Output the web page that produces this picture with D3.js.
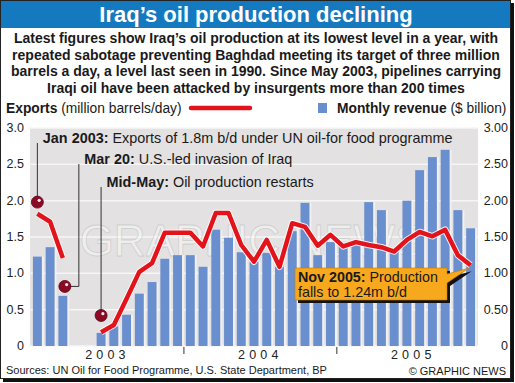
<!DOCTYPE html>
<html><head><meta charset="utf-8">
<script src="https://cdn.jsdelivr.net/npm/d3@7"></script>
<style>
body{margin:0;background:#fff}
svg{display:block;font-family:"Liberation Sans",Arial,Helvetica,sans-serif}
</style>
</head><body><svg id="c" width="515" height="383"></svg>
<script>
// ---------- DATA ----------
const months = [
 "2003-01","2003-02","2003-03","2003-04","2003-05","2003-06","2003-07","2003-08","2003-09","2003-10","2003-11","2003-12",
 "2004-01","2004-02","2004-03","2004-04","2004-05","2004-06","2004-07","2004-08","2004-09","2004-10","2004-11","2004-12",
 "2005-01","2005-02","2005-03","2005-04","2005-05","2005-06","2005-07","2005-08","2005-09","2005-10","2005-11"];
const years = ["2003","2004","2005"];
// Monthly revenue ($ billion)
const revenue = [
 1.23,1.36,0.69,null,null,0.18,0.27,0.43,0.72,0.88,1.20,1.25,
 1.25,1.09,1.60,1.49,1.29,1.16,1.28,1.09,1.58,1.97,1.25,1.43,
 1.40,1.45,1.98,1.87,1.32,2.00,2.42,2.60,2.70,1.87,1.62];
// Exports (million barrels/day)
const exportsBpd = [
 1.82,1.71,1.21,null,null,0.19,0.29,0.65,1.02,1.14,1.56,1.56,
 1.56,1.37,1.83,1.83,1.39,1.16,1.46,1.09,1.69,1.64,1.38,1.53,
 1.37,1.43,1.39,1.36,1.30,1.46,1.57,1.51,1.60,1.25,1.11];
const leftTicks = [0,0.5,1,1.5,2,2.5,3];
const leftTickLabels = ["0","0.5","1.0","1.5","2.0","2.5","3.0"];
const rightTickLabels = ["0","0.50","1.00","1.50","2.00","2.50","3.00"];
const titleText = "Iraq’s oil production declining";
const subtitleLines = [
 "Latest figures show Iraq’s oil production at its lowest level in a year, with",
 "repeated sabotage preventing Baghdad meeting its target of three million",
 "barrels a day, a level last seen in 1990. Since May 2003, pipelines carrying",
 "Iraqi oil have been attacked by insurgents more than 200 times"];
const eventMonths = ["2003-01","2003-03","2003-06"];
const eventValues = [1.98,0.82,0.42];
const eventBold = ["Jan 2003:","Mar 20:","Mid-May:"];
const eventText = [" Exports of 1.8m b/d under UN oil-for food programme"," U.S.-led invasion of Iraq"," Oil production restarts"];
const calloutBold = "Nov 2005:";
const calloutLines = [" Production","falls to 1.24m b/d"];
const sourceText = "Sources: UN Oil for Food Programme, U.S. State Department, BP";
const creditText = "© GRAPHIC NEWS";

// ---------- LAYOUT ----------
const svg = d3.select("#c");
const plot = {left:30, right:478, top:128, bottom:346};
const x = d3.scaleBand().domain(months).range([31,477]).paddingInner(0.3).paddingOuter(0.15);
const y = d3.scaleLinear().domain([0,3]).range([plot.bottom, plot.top]);
const bw = x.bandwidth();
const step = x.step();
const cx = m => x(m) + bw/2;

// frame + shadow
svg.append("rect").attr("x",3).attr("y",3).attr("width",511).attr("height",379).attr("fill","#111");
svg.append("rect").attr("x",0.5).attr("y",0.5).attr("width",510).attr("height",378).attr("fill","#fff").attr("stroke","#222");

// title bar
svg.append("rect").attr("x",1).attr("y",1).attr("width",509).attr("height",27).attr("fill","#1579c0");
svg.append("text").attr("x",256).attr("y",22).attr("text-anchor","middle")
  .attr("fill","#fff").attr("font-size",22).attr("font-weight","bold").text(titleText);

// subtitle
svg.append("g").selectAll("text").data(subtitleLines).join("text")
  .attr("x",256).attr("y",(d,i)=>43+i*16.5).attr("text-anchor","middle")
  .attr("font-size",14).attr("font-weight","bold").attr("fill","#1a1a1a").text(d=>d);

// legend
const lg = svg.append("g");
const t1 = lg.append("text").attr("x",6).attr("y",113).attr("font-size",13.8).attr("fill","#1a1a1a");
t1.append("tspan").attr("font-weight","bold").text("Exports");
t1.append("tspan").text(" (million barrels/day)");
lg.append("line").attr("x1",191).attr("x2",250).attr("y1",108).attr("y2",108)
  .attr("stroke","#e3131b").attr("stroke-width",4.5).attr("stroke-linecap","round");
lg.append("rect").attr("x",318).attr("y",103).attr("width",9).attr("height",10).attr("fill","#6a8fcf");
const t2 = lg.append("text").attr("x",337).attr("y",113).attr("font-size",13.8).attr("fill","#1a1a1a");
t2.append("tspan").attr("font-weight","bold").text("Monthly revenue");
t2.append("tspan").text(" ($ billion)");

// plot background
svg.append("rect").attr("x",plot.left).attr("y",plot.top).attr("width",plot.right-plot.left)
  .attr("height",plot.bottom-plot.top).attr("fill","#e3e1e1");

// gridlines
svg.append("g").selectAll("line").data(leftTicks).join("line")
  .attr("x1",28).attr("x2",plot.right).attr("y1",d=>y(d)).attr("y2",d=>y(d))
  .attr("stroke","#f6f6f6").attr("stroke-width",1.5);

// watermark
svg.append("text").attr("x",252).attr("y",256).attr("text-anchor","middle")
  .attr("font-size",44).attr("fill","#fff").attr("fill-opacity",0.45)
  .attr("stroke","#bdbdbd").attr("stroke-opacity",0.6).attr("stroke-width",0.8)
  .text("GRAPHIC NEWS");

// axis labels
svg.append("g").selectAll("text").data(leftTicks).join("text")
  .attr("x",24).attr("y",d=>y(d)+4).attr("text-anchor","end").attr("font-size",12.5).attr("fill","#222")
  .text((d,i)=>leftTickLabels[i]);
svg.append("g").selectAll("text").data(leftTicks).join("text")
  .attr("x",508).attr("y",d=>y(d)+4).attr("text-anchor","end").attr("font-size",12.5).attr("fill","#222")
  .text((d,i)=>rightTickLabels[i]);

// bars
const barData = months.map((m,i)=>({m, v:revenue[i]})).filter(d=>d.v!=null);
svg.append("g").selectAll("rect").data(barData).join("rect")
  .attr("x",d=>x(d.m)+bw).attr("width",2).attr("y",d=>y(d.v)).attr("height",d=>y(0)-y(d.v))
  .attr("fill","#f1f1f1");
svg.append("g").selectAll("rect").data(barData).join("rect")
  .attr("x",d=>x(d.m)).attr("width",bw).attr("y",d=>y(d.v)).attr("height",d=>y(0)-y(d.v))
  .attr("fill","#6a8fcf");

// year ticks and labels
const yearBounds = years.slice(1).map(yr => x(yr+"-01") - (step-bw)/2);
svg.append("g").selectAll("line").data(yearBounds).join("line")
  .attr("x1",d=>d).attr("x2",d=>d).attr("y1",plot.bottom+1).attr("y2",plot.bottom+8)
  .attr("stroke","#333").attr("stroke-width",1);
svg.append("g").selectAll("text").data(years).join("text")
  .attr("x",yr => x(yr+"-01") - (step-bw)/2 + step*6)
  .attr("y",359).attr("text-anchor","middle").attr("font-size",12.5).attr("letter-spacing",4.2)
  .attr("fill","#222").text(d=>d);

// events (markers + leaders + text)
const rowsY = [143,164,187];
const ev = svg.append("g");
eventMonths.forEach((m,i)=>{
  const px = cx(m) + (i===1?2:0), py = y(eventValues[i]);
  let lx = px;
  if(i===1){
    lx = px + 14;
    ev.append("path").attr("d",`M${px},${py}H${lx}V${rowsY[i]}`).attr("fill","none").attr("stroke","#333").attr("stroke-width",1);
  } else {
    ev.append("line").attr("x1",lx).attr("x2",lx).attr("y1",py).attr("y2",rowsY[i]).attr("stroke","#333").attr("stroke-width",1);
  }
  const t = ev.append("text").attr("x",lx+5.5).attr("y",rowsY[i]).attr("font-size",14.4).attr("fill","#1a1a1a");
  t.append("tspan").attr("font-weight","bold").text(eventBold[i]);
  t.append("tspan").text(eventText[i]);
  ev.append("circle").attr("cx",px).attr("cy",py).attr("r",6).attr("fill","#8a0a25").attr("stroke","#5a0515").attr("stroke-width",0.8);
  ev.append("circle").attr("cx",px+1.8).attr("cy",py-1.8).attr("r",1.6).attr("fill","#fff").attr("fill-opacity",0.9);
});

// exports line
const lineData = months.map((m,i)=>({m, v:exportsBpd[i]}));
const line = d3.line().defined(d=>d.v!=null).x(d=>cx(d.m)).y(d=>y(d.v));
svg.append("path").datum(lineData).attr("d",line).attr("fill","none")
  .attr("stroke","#fff").attr("stroke-width",6.5).attr("stroke-linejoin","round").attr("stroke-opacity",0.85);
svg.append("path").datum(lineData).attr("d",line).attr("fill","none")
  .attr("stroke","#e3131b").attr("stroke-width",4.5).attr("stroke-linejoin","round");

// callout
const last = lineData[lineData.length-1];
const tipX = cx(last.m)-2, tipY = y(last.v)+3;
const bx0=295, bx1=447, by0=268, by1=300;
const callPath = (dx,dy)=>`M${bx0+dx},${by0+dy}H${bx1+dx}V${274+dy}L${tipX+dx},${tipY+dy}L${bx1+dx},${283+dy}V${by1+dy}H${bx0+dx}Z`;
svg.append("path").attr("d",callPath(3,3)).attr("fill","#111");
svg.append("path").attr("d",callPath(0,0)).attr("fill","#f8a81c").attr("stroke","#c07a00").attr("stroke-width",0.6);
const ct = svg.append("text").attr("x",298).attr("y",282).attr("font-size",14.3).attr("fill","#1a1a1a");
ct.append("tspan").attr("font-weight","bold").text(calloutBold);
ct.append("tspan").text(calloutLines[0]);
svg.append("text").attr("x",298).attr("y",297).attr("font-size",14.3).attr("fill","#1a1a1a").text(calloutLines[1]);

// footer
svg.append("text").attr("x",6).attr("y",374).attr("font-size",11).attr("fill","#1a1a1a").text(sourceText);
svg.append("text").attr("x",506).attr("y",375).attr("text-anchor","end").attr("font-size",11).attr("fill","#1a1a1a").text(creditText);
</script>
</body></html>
